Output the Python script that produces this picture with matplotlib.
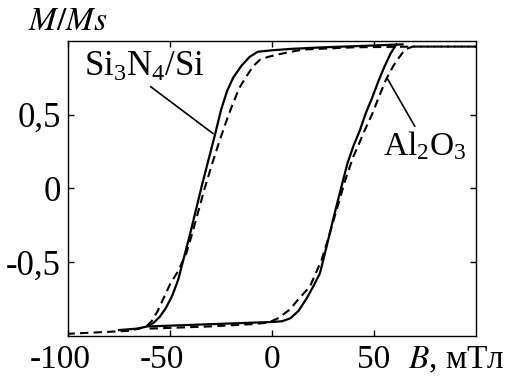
import numpy as np
import matplotlib
matplotlib.use('Agg')
import matplotlib.pyplot as plt
from matplotlib.transforms import ScaledTranslation

plt.rcParams['font.family'] = ['Liberation Serif', 'DejaVu Serif']
plt.rcParams['mathtext.fontset'] = 'stix'

# Si3N4/Si - сплошная линия
solid_down_x = [64, 45, 25, 10, 0, -7, -11, -15, -19, -22, -25, -28, -31, -34, -37, -40,
                -43, -46, -49, -52, -55, -58, -61, -66, -75]
solid_down_y = [0.975, 0.965, 0.955, 0.945, 0.935, 0.925, 0.89, 0.83, 0.75, 0.66, 0.53, 0.36,
                0.20, 0.04, -0.13, -0.30, -0.46, -0.62, -0.73, -0.81, -0.87, -0.91, -0.935,
                -0.95, -0.96]
solid_up_x = [-60, -40, -20, 0, 5, 9, 13, 17, 20, 23.5, 27, 30.5, 34, 37, 40, 43, 46, 49,
              52, 55, 58, 61]
solid_up_y = [-0.935, -0.925, -0.915, -0.905, -0.9, -0.88, -0.83, -0.745, -0.67, -0.575,
              -0.38, -0.18, 0.01, 0.17, 0.29, 0.39, 0.51, 0.61, 0.72, 0.82, 0.91, 0.975]

# Al2O3 - штриховая линия
dash_down_x = [100, 70, 40, 15, 4, -2, -6, -9, -12.5, -16, -19, -22, -26, -29.6, -33, -36,
               -39, -42, -46, -50, -53, -56, -59, -62, -70, -85, -100]
dash_down_y = [0.96, 0.96, 0.955, 0.94, 0.91, 0.89, 0.87, 0.83, 0.76, 0.68, 0.58, 0.47, 0.31,
               0.155, 0.0, -0.15, -0.3, -0.44, -0.56, -0.65, -0.74, -0.83, -0.9, -0.94,
               -0.965, -0.975, -0.985]
dash_up_x = [-60, -30, -10, -2, 3, 8.8, 13, 18.6, 24.3, 28, 32, 36, 40, 42.3, 45, 49, 53, 56,
             59.5, 62.5, 65.2, 69, 100]
dash_up_y = [-0.95, -0.935, -0.92, -0.91, -0.88, -0.82, -0.75, -0.665, -0.485, -0.32, -0.13,
             0.06, 0.22, 0.29, 0.38, 0.5, 0.64, 0.74, 0.83, 0.89, 0.94, 0.96, 0.96]

xticks = [-100, -50, 0, 50]
xticklabels = ['-100', '-50', '0', '50']
yticks = [-0.5, 0, 0.5]
yticklabels = ['-0,5', '0', '0,5']

fig = plt.figure(figsize=(5.12, 3.76), dpi=100)
ax = fig.add_axes([0.1328, 0.1064, 0.7969, 0.7854])

ax.plot(solid_down_x, solid_down_y, 'k-', lw=1.6)
ax.plot(solid_up_x, solid_up_y, 'k-', lw=1.6)
ax.plot(dash_down_x, dash_down_y, 'k--', lw=1.5, dashes=(4, 2.5))
ax.plot(dash_up_x, dash_up_y, 'k--', lw=1.5, dashes=(4, 2.5))

ax.set_xlim(-100, 100)
ax.set_ylim(-1, 1)
ax.set_xticks(xticks)
ax.set_xticklabels(xticklabels)
ax.set_yticks(yticks)
ax.set_yticklabels(yticklabels)
ax.tick_params(direction='in', length=4, width=1, labelsize=25, pad=5,
               top=True, right=True)
ax.tick_params(axis='x', pad=6, labelsize=24)
for s in ax.spines.values():
    s.set_linewidth(1)

# минус "висит" слева от цифр
for lab in ax.get_xticklabels():
    if lab.get_text().startswith('-'):
        lab.set_transform(lab.get_transform() + ScaledTranslation(-0.08, 0, fig.dpi_scale_trans))

# подписи
ax.annotate(r'$\mathregular{Si_3N_4/Si}$', xy=(-28.8, 0.37), xytext=(-92, 0.82),
            fontsize=25, va='center', ha='left',
            arrowprops=dict(arrowstyle='-', lw=1.2, color='k', shrinkA=0, shrinkB=0,
                            relpos=(0.5, 0.05)))
ax.annotate(r'$\mathregular{Al_2O_3}$', xy=(56.7, 0.74), xytext=(54.5, 0.29),
            fontsize=24, va='center', ha='left',
            arrowprops=dict(arrowstyle='-', lw=1.2, color='k', shrinkA=0, shrinkB=0,
                            relpos=(0.41, 0.95)))

ax.text(0.0, 1.065, r'$M/Ms$', transform=ax.transAxes, fontsize=24,
        ha='center', va='center')
ax.text(0.833, -0.08, r'$B$, мТл', transform=ax.transAxes, fontsize=24,
        ha='left', va='center')

plt.savefig('out.png', dpi=100)
